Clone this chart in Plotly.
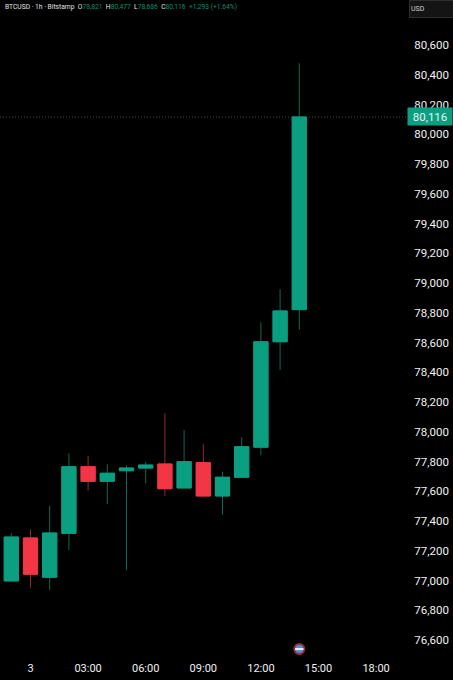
import plotly.graph_objects as go

hours = [-1, 0, 1, 2, 3, 4, 5, 6, 7, 8, 9, 10, 11, 12, 13, 14]
opens = [76997, 77286, 77022, 77317, 77765, 77667, 77738, 77756, 77783, 77622, 77792, 77568, 77694, 77896, 78605, 78821]
highs = [77319, 77344, 77503, 77855, 77837, 77781, 77774, 77799, 78124, 78012, 77916, 77729, 77963, 78736, 78958, 80477]
lows = [76997, 76952, 76936, 77205, 77604, 77514, 77071, 77653, 77568, 77622, 77568, 77442, 77694, 77844, 78415, 78686]
closes = [77292, 77042, 77319, 77765, 77667, 77721, 77756, 77776, 77617, 77799, 77568, 77694, 77899, 78605, 78812, 80116]

price_ticks = list(range(76600, 80601, 200))
time_ticks = [0, 3, 6, 9, 12, 15, 18]
time_labels = ["3", "03:00", "06:00", "09:00", "12:00", "15:00", "18:00"]
event_hour = [14]
event_price = [76539]

UP = "#0b9f82"
DOWN = "#f23645"
UP_WICK = "#0a6b58"
DOWN_WICK = "#8f2a35"
TEXT = "#f0f0f0"

fig = go.Figure()
fig.add_trace(go.Candlestick(
    x=hours, open=opens, high=highs, low=lows, close=closes,
    increasing=dict(line=dict(color=UP_WICK, width=1), fillcolor=UP),
    decreasing=dict(line=dict(color=DOWN_WICK, width=1), fillcolor=DOWN),
    showlegend=False,
))
fig.add_trace(go.Candlestick(
    x=hours, open=opens, high=[max(o, c) for o, c in zip(opens, closes)],
    low=[min(o, c) for o, c in zip(opens, closes)], close=closes,
    increasing=dict(line=dict(color=UP, width=1), fillcolor=UP),
    decreasing=dict(line=dict(color=DOWN, width=1), fillcolor=DOWN),
    showlegend=False,
))
fig.add_trace(go.Scatter(
    x=event_hour, y=event_price, mode="markers", showlegend=False,
    marker=dict(size=10, color="#4d8fe0", line=dict(color="#9c2b3a", width=2)),
))
fig.add_trace(go.Scatter(
    x=event_hour, y=event_price, mode="markers", showlegend=False,
    marker=dict(size=6, color="#f0f0f0", symbol="line-ew", line=dict(color="#f0f0f0", width=2)),
))

last = closes[-1]
fig.add_shape(type="line", xref="paper", x0=0, x1=1, yref="y", y0=last, y1=last,
              line=dict(color="#3f4a46", width=1, dash="1px,2px"), layer="below")

G = "#0f8f75"
W = "#e0e0e0"
header = (
    f'<span style="color:{W}">BTCUSD · 1h · Bitstamp</span>'
    f'  <span style="color:{W}">O</span><span style="color:{G}">78,821</span>'
    f'  <span style="color:{W}">H</span><span style="color:{G}">80,477</span>'
    f'  <span style="color:{W}">L</span><span style="color:{G}">78,686</span>'
    f'  <span style="color:{W}">C</span><span style="color:{G}">80,116</span>'
    f'  <span style="color:{G}">+1,293 (+1.64%)</span>'
)
fig.add_annotation(text=header, xref="paper", yref="paper", x=0.008, y=1 - 6.5 / 655, xanchor="left",
                   yanchor="middle", showarrow=False, font=dict(family="Roboto", size=6.7))
fig.add_annotation(text=f"{last:,}", xref="paper", x=1 + 22 / 408, xanchor="center", yref="y", y=last,
                   yanchor="middle", showarrow=False, bgcolor=UP, width=42, height=15,
                   font=dict(family="Roboto", size=11.5, color="#f0f0f0"))
fig.add_annotation(text="USD", xref="paper", yref="paper", x=1 + 1 / 408, y=1 - 9 / 655, xanchor="left",
                   yanchor="middle", showarrow=False, width=41, height=14, align="left",
                   bgcolor="#141414", bordercolor="#2e2e2e", borderwidth=1,
                   font=dict(family="Roboto", size=7, color="#d0d0d0"))

fig.update_layout(
    width=453, height=680,
    margin=dict(l=0, r=45, t=0, b=25, autoexpand=False),
    paper_bgcolor="#000000", plot_bgcolor="#000000",
    boxmode="overlay", boxgap=0.26, boxgroupgap=0,
    hovermode=False,
    xaxis=dict(range=[-30.5 / 19.2, 377.5 / 19.2], rangeslider=dict(visible=False), showgrid=False, zeroline=False,
               tickmode="array", tickvals=time_ticks, ticktext=time_labels,
               ticks="outside", ticklen=3, tickcolor="#000000",
               tickfont=dict(family="Roboto", size=11, color=TEXT), showline=False),
    yaxis=dict(range=[76499, 80902.5], side="right", showgrid=False, zeroline=False,
               tickmode="array", tickvals=price_ticks, ticktext=[f"{p:,}" for p in price_ticks],
               ticks="outside", ticklen=3, tickcolor="#000000",
               tickfont=dict(family="Roboto", size=11.5, color=TEXT), showline=False),
)
fig.write_html("out.html", config={"displayModeBar": False},
               post_script="document.body.style.margin='0';document.body.style.background='#000';")
